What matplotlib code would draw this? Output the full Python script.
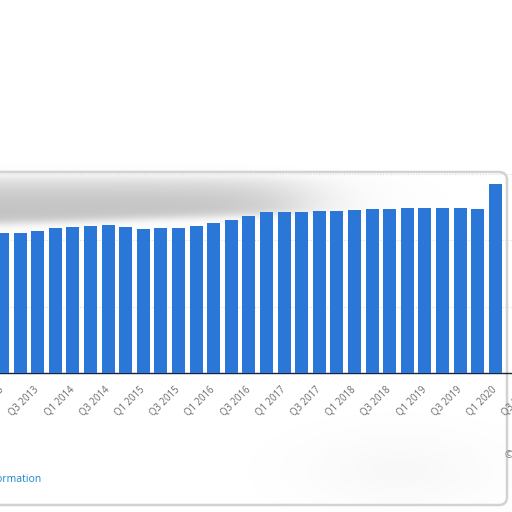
import numpy as np
import matplotlib
matplotlib.use("Agg")
import matplotlib.pyplot as plt
from matplotlib.patches import FancyBboxPatch

# -----------------------------
# DATA (gridline step = 50)
# -----------------------------
quarters = [
    "Q1 2013", "Q2 2013", "Q3 2013", "Q4 2013",
    "Q1 2014", "Q2 2014", "Q3 2014", "Q4 2014",
    "Q1 2015", "Q2 2015", "Q3 2015", "Q4 2015",
    "Q1 2016", "Q2 2016", "Q3 2016", "Q4 2016",
    "Q1 2017", "Q2 2017", "Q3 2017", "Q4 2017",
    "Q1 2018", "Q2 2018", "Q3 2018", "Q4 2018",
    "Q1 2019", "Q2 2019", "Q3 2019", "Q4 2019",
    "Q1 2020", "Q2 2020", "Q3 2020",
]
values = [
    105.5, 105.3, 106.8, 108.8,
    109.5, 110.3, 111.1, 109.5,
    108.3, 108.8, 108.8, 110.3,
    113.0, 115.0, 118.0, 120.8,
    120.8, 120.8, 121.6, 121.6,
    122.3, 123.1, 123.5, 124.3,
    124.3, 124.3, 124.3, 123.5,
    142.1,
]

BLUE = "#2a77d8"
PX = 512

# -----------------------------
# FIGURE
# -----------------------------
fig = plt.figure(figsize=(5.12, 5.12), dpi=100)
fig.patch.set_facecolor("white")

# background layer (blurry grey band + card border), pixel coords
bg = fig.add_axes([0, 0, 1, 1], zorder=0)
bg.set_xlim(0, PX)
bg.set_ylim(PX, 0)
bg.axis("off")

X, Y = np.meshgrid(np.arange(PX), np.arange(PX))
sig = lambda z: 1 / (1 + np.exp(-z))
lower = 223 - 9 * np.clip(X / 260, 0, 1.3)
band = sig((Y - 176) / 3) * sig((lower - Y) / 2.5) * sig((300 - X) / 30)
band *= 0.45 + 0.55 * sig((Y - 188) / 7)
corner = 0.07 * np.exp(-(((X - 400) / 90) ** 2 + ((Y - 470) / 35) ** 2))
alpha = np.clip(0.62 * band + corner, 0, 1)
rgba = np.zeros((PX, PX, 4))
rgba[..., :3] = 0.62
rgba[..., 3] = alpha
bg.imshow(rgba, extent=(0, PX, PX, 0), interpolation="bilinear")

card = FancyBboxPatch((-20, 172), 527, 333,
                      boxstyle="round,pad=0,rounding_size=8",
                      fill=False, edgecolor="#d2d2d2", linewidth=1.8)
bg.add_patch(card)

# chart layer, axes wider than the figure so it looks cropped
left_px, right_px = -40, 560
base_px, top_px = 373, 173.5
pitch, first_px = 17.6, 2.5
ax = fig.add_axes([left_px / PX, (PX - base_px) / PX,
                   (right_px - left_px) / PX, (base_px - top_px) / PX], zorder=1)
ax.set_facecolor("none")

x = np.arange(len(values))
ax.bar(x, values, width=0.74, color=BLUE, zorder=3)

ax.set_xlim((left_px - first_px) / pitch, (right_px - first_px) / pitch)
ax.set_ylim(0, 150)
ax.set_yticks([0, 50, 100, 150])
ax.yaxis.grid(True, color="#dddddd", linestyle=(0, (1, 1.5)), linewidth=0.8, zorder=0)
ax.tick_params(axis="y", left=False, labelleft=False)

ticks = np.arange(0, len(quarters), 2)
ax.set_xticks(ticks)
ax.set_xticklabels([quarters[i] for i in ticks], rotation=45, ha="right",
                   va="center", rotation_mode="anchor", fontsize=6.9,
                   color="#6b6b6b", family="Open Sans")
ax.tick_params(axis="x", length=0, pad=11)

for side in ["top", "right", "left"]:
    ax.spines[side].set_visible(False)
ax.spines["bottom"].set_color("#17233f")
ax.spines["bottom"].set_linewidth(1.0)

# footer texts, cut by the figure edges
fig.text(41 / PX, 1 - 479 / PX, "Additional Information", ha="right", va="center",
         fontsize=7.5, color="#1a86c8", family="Open Sans")
fig.text(505 / PX, 1 - 456 / PX, "© Statista 2021", ha="left", va="center",
         fontsize=7.5, color="#777777", family="Open Sans")

fig.savefig("out.png", dpi=100)
